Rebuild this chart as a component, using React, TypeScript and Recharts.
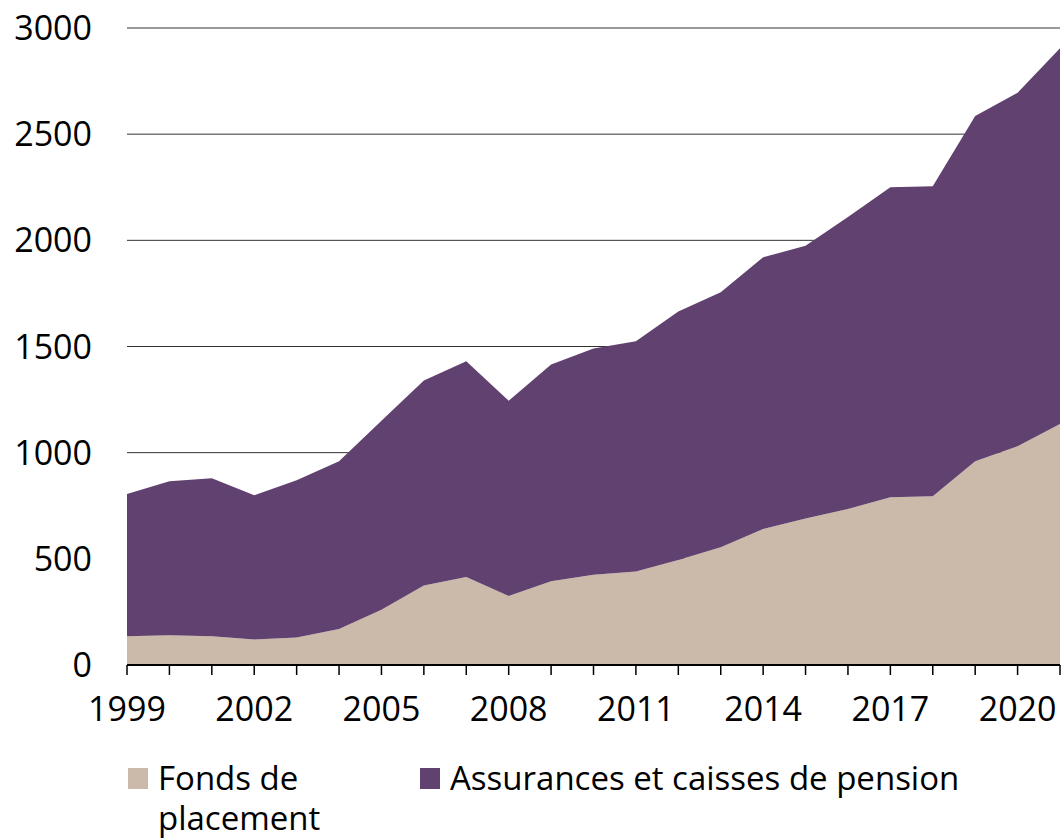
import { AreaChart, Area, XAxis, YAxis, CartesianGrid, Legend } from 'recharts';

const years = [
  '1999', '2000', '2001', '2002', '2003', '2004', '2005', '2006', '2007', '2008', '2009', '2010',
  '2011', '2012', '2013', '2014', '2015', '2016', '2017', '2018', '2019', '2020', '2021',
];
const fonds = [
  135, 140, 135, 120, 130, 170, 260, 375, 415, 325, 395, 425,
  440, 495, 555, 640, 690, 735, 790, 795, 960, 1030, 1135,
];
const assurances = [
  670, 725, 745, 680, 740, 790, 890, 965, 1015, 920, 1020, 1065,
  1085, 1170, 1200, 1280, 1285, 1375, 1460, 1460, 1625, 1665, 1770,
];
const yTicks = [0, 500, 1000, 1500, 2000, 2500, 3000];
const seriesNames = ['Fonds de placement', 'Assurances et caisses de pension'];

const FONT = '"Open Sans", "Noto Sans", sans-serif';
const BEIGE = '#cbbaa9';
const PURPLE = '#614170';

const data = years.map((y, i) => ({ year: y, fonds: fonds[i], assurances: assurances[i] }));

function YearTick({ x, y, payload, index }: any) {
  // labels every third year, tick marks every year
  if (index % 3 !== 0) return null;
  return (
    <text x={x} y={y} dy="0.71em" textAnchor="middle" fill="#000" fontSize={34} fontFamily={FONT}>
      {payload.value}
    </text>
  );
}

function LegendBox({ payload }: any) {
  const items = [...(payload || [])].sort(
    (a: any, b: any) => seriesNames.indexOf(a.value) - seriesNames.indexOf(b.value)
  );
  return (
    <div style={{ display: 'flex', paddingLeft: 128, paddingTop: 18, fontFamily: FONT, fontSize: 33, lineHeight: '40px', color: '#000' }}>
      {items.map((p: any, i: number) => (
        <div key={p.value} style={{ display: 'flex', alignItems: 'flex-start', width: i === 0 ? 292 : 'auto' }}>
          <span style={{ width: 20, height: 21, marginTop: 10, marginRight: 10, background: p.color, flex: 'none' }} />
          <span style={{ maxWidth: i === 0 ? 200 : 'none' }}>{p.value}</span>
        </div>
      ))}
    </div>
  );
}

export default function App() {
  return (
    <div style={{ position: 'absolute', left: 0, top: 0, background: '#fff' }}>
      <AreaChart width={1064} height={840} data={data} margin={{ top: 28, right: 4, bottom: 0, left: 0 }}>
        <CartesianGrid vertical={false} stroke="#333" strokeWidth={1} />
        <XAxis
          dataKey="year"
          interval={0}
          height={75}
          tick={<YearTick />}
          tickSize={10}
          tickMargin={22}
          axisLine={{ stroke: '#000', strokeWidth: 2 }}
          tickLine={{ stroke: '#000', strokeWidth: 1.5 }}
        />
        <YAxis
          domain={[0, 3000]}
          ticks={yTicks}
          width={127}
          axisLine={false}
          tickLine={false}
          tickSize={0}
          tickMargin={35}
          tick={{ fill: '#000', fontSize: 34, fontFamily: FONT }}
        />
        <Legend
          verticalAlign="bottom"
          wrapperStyle={{ left: 0, bottom: 0, width: 1064, height: 100 }}
          content={<LegendBox />}
        />
        <Area
          type="linear"
          dataKey="fonds"
          name={seriesNames[0]}
          stackId="a"
          fill={BEIGE}
          stroke="none"
          fillOpacity={1}
          isAnimationActive={false}
        />
        <Area
          type="linear"
          dataKey="assurances"
          name={seriesNames[1]}
          stackId="a"
          fill={PURPLE}
          stroke="none"
          fillOpacity={1}
          isAnimationActive={false}
        />
      </AreaChart>
    </div>
  );
}
